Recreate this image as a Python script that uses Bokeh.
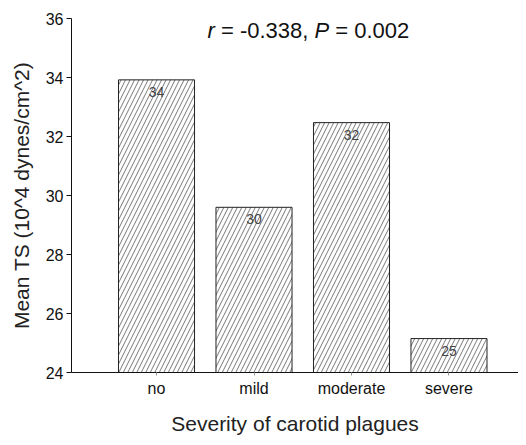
from bokeh.plotting import figure
from bokeh.models import Range1d, FixedTicker, Label, ColumnDataSource
from bokeh.embed import file_html
from bokeh.resources import INLINE

categories = ["no", "mild", "moderate", "severe"]
values = [33.92, 29.6, 32.47, 25.15]
bar_labels = ["34", "30", "32", "25"]
y_ticks = [24, 26, 28, 30, 32, 34, 36]
positions = [1, 2, 3, 4]

FONT = "Liberation Sans"

p = figure(width=518, height=437, x_range=Range1d(0.128, 4.713), y_range=Range1d(24, 36),
           output_backend="svg", toolbar_location=None,
           min_border_left=71, min_border_right=0, min_border_top=18, min_border_bottom=63)
p.xgrid.visible = False
p.ygrid.visible = False
p.outline_line_color = None

src = ColumnDataSource(dict(x=positions, top=values, lab=bar_labels))
p.vbar(x="x", top="top", bottom=24, width=0.78, source=src, fill_color="white",
       line_color="#222222", line_width=1, hatch_pattern="/", hatch_color="#555555",
       hatch_scale=9, hatch_weight=0.8)
p.text(x="x", y="top", text="lab", source=src, text_align="center", text_baseline="top",
       y_offset=7, text_font_size="14px", text_color="#444444", text_font={"value": FONT})

# y axis
ya = p.yaxis[0]
ya.ticker = FixedTicker(ticks=y_ticks)
ya.major_tick_out = 5
ya.major_tick_in = 0
ya.minor_tick_out = 0
ya.minor_tick_in = 0
ya.major_label_standoff = 3
ya.major_label_text_font = FONT
ya.major_label_text_font_size = "16px"
ya.major_label_text_color = "#111111"
ya.axis_line_color = "#111111"
ya.major_tick_line_color = "#111111"
ya.axis_label = "Mean TS (10^4 dynes/cm^2)"
ya.axis_label_text_font = FONT
ya.axis_label_text_font_style = "normal"
ya.axis_label_text_font_size = "21px"
ya.axis_label_text_color = "#222222"
ya.axis_label_standoff = 10

# x axis
xa = p.xaxis[0]
xa.ticker = FixedTicker(ticks=positions)
xa.major_label_overrides = {pos: c for pos, c in zip(positions, categories)}
xa.major_tick_out = 3
xa.major_tick_in = 0
xa.minor_tick_out = 0
xa.minor_tick_in = 0
xa.major_label_standoff = 4
xa.major_label_text_font = FONT
xa.major_label_text_font_size = "16px"
xa.major_label_text_color = "#111111"
xa.axis_line_color = "#111111"
xa.major_tick_line_color = "#999999"
xa.axis_label = "Severity of carotid plagues"
xa.axis_label_text_font = FONT
xa.axis_label_text_font_style = "normal"
xa.axis_label_text_font_size = "21px"
xa.axis_label_text_color = "#222222"
xa.axis_label_standoff = 12

# title pieces
tx, ty = 1.523, 35.6
pieces = [("r", "italic", 0), ("= -0.338,", "normal", 13.44), ("P", "italic", 107.0),
          ("= 0.002", "normal", 127.8)]
for t, style, off in pieces:
    p.add_layout(Label(x=tx, y=ty, x_offset=off, text=t, text_font=FONT, text_font_style=style,
                       text_font_size="22px", text_color="#111111", text_baseline="alphabetic"))

open("out.html", "w").write(file_html(p, INLINE))
